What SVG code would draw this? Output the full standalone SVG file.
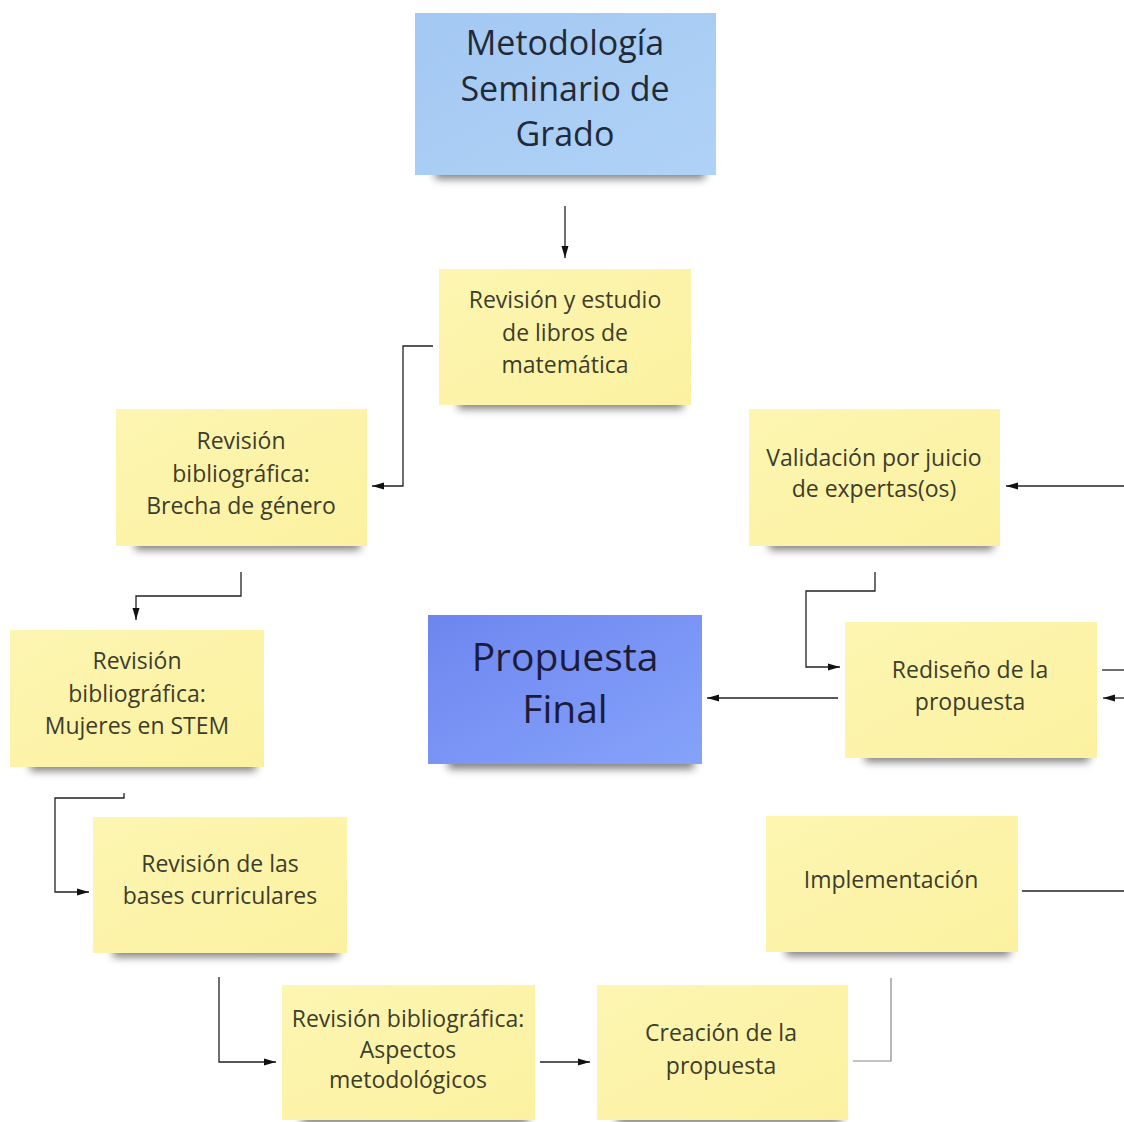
<svg xmlns="http://www.w3.org/2000/svg" width="1124" height="1122" viewBox="0 0 1124 1122">
<defs>
<filter id="sh" x="-20%" y="-100%" width="140%" height="400%"><feGaussianBlur stdDeviation="4"/></filter>
<linearGradient id="yel" x1="0" y1="0" x2="1" y2="1"><stop offset="0" stop-color="#fdf6b2"/><stop offset="1" stop-color="#fbf1a0"/></linearGradient>
<linearGradient id="blu" x1="0" y1="0" x2="1" y2="1"><stop offset="0" stop-color="#a3c8f2"/><stop offset="1" stop-color="#b0d2f7"/></linearGradient>
<linearGradient id="vio" x1="0" y1="0" x2="1" y2="1"><stop offset="0" stop-color="#6d86f0"/><stop offset="1" stop-color="#86a3fa"/></linearGradient>
<marker id="ar" viewBox="0 0 12 10" refX="12" refY="5" markerWidth="12" markerHeight="10" markerUnits="userSpaceOnUse" orient="auto"><path d="M0,1.5 L12,5 L0,8.5 z" fill="#111"/></marker>
<style>
.sh{fill:#000;opacity:0.5;filter:url(#sh)}
.y{fill:url(#yel)}
.t{font-family:"Open Sans","Noto Sans",sans-serif;font-size:23px;fill:#3d3d2c;text-anchor:middle}
.big{font-size:34px;fill:#1f2a38}
.huge{font-size:39px;fill:#1c1c3a}
.c{fill:none;stroke:#222;stroke-width:1.3}
.g{fill:none;stroke:#888;stroke-width:1.2}
</style>
</defs>

<g id="connectors">
<path class="c" d="M565,206 V258" marker-end="url(#ar)"/>
<path class="c" d="M433,346 H403 V486 H372" marker-end="url(#ar)"/>
<path class="c" d="M241,572 V596 H136 V620" marker-end="url(#ar)"/>
<path class="c" d="M124,793 V798 H55 V892 H89" marker-end="url(#ar)"/>
<path class="c" d="M219,977 V1062 H276" marker-end="url(#ar)"/>
<path class="c" d="M540,1062 H590" marker-end="url(#ar)"/>
<path class="g" d="M853,1061 H891 V978"/>
<path class="c" d="M1022,891 H1124"/>
<path class="c" d="M1102,670 H1124"/>
<path class="c" d="M1124,698 H1103" marker-end="url(#ar)"/>
<path class="c" d="M838,698 H707" marker-end="url(#ar)"/>
<path class="c" d="M875,572 V591 H806 V667 H840" marker-end="url(#ar)"/>
<path class="c" d="M1124,486 H1006" marker-end="url(#ar)"/>
</g>

<g id="n-metodologia">
<rect class="sh" x="435" y="165" width="270" height="14"/>
<rect x="415" y="13" width="301" height="162" fill="url(#blu)"/>
<text class="t big" x="565" y="55">Metodología</text>
<text class="t big" x="565" y="101">Seminario de</text>
<text class="t big" x="565" y="146">Grado</text>
</g>

<g id="n-libros">
<rect class="sh" x="458" y="396" width="225" height="13"/>
<rect class="y" x="439" y="269" width="252" height="136"/>
<text class="t" x="565" y="308">Revisión y estudio</text>
<text class="t" x="565" y="341">de libros de</text>
<text class="t" x="565" y="373">matemática</text>
</g>

<g id="n-brecha">
<rect class="sh" x="135" y="537" width="225" height="13"/>
<rect class="y" x="116" y="409" width="251" height="137"/>
<text class="t" x="241" y="449">Revisión</text>
<text class="t" x="241" y="482">bibliográfica:</text>
<text class="t" x="241" y="514">Brecha de género</text>
</g>

<g id="n-stem">
<rect class="sh" x="30" y="758" width="226" height="13"/>
<rect class="y" x="10" y="630" width="254" height="137"/>
<text class="t" x="137" y="669">Revisión</text>
<text class="t" x="137" y="702">bibliográfica:</text>
<text class="t" x="137" y="734">Mujeres en STEM</text>
</g>

<g id="n-bases">
<rect class="sh" x="113" y="944" width="226" height="13"/>
<rect class="y" x="93" y="817" width="254" height="136"/>
<text class="t" x="220" y="872">Revisión de las</text>
<text class="t" x="220" y="904">bases curriculares</text>
</g>

<g id="n-aspectos">
<rect class="sh" x="302" y="1111" width="226" height="13"/>
<rect class="y" x="282" y="985" width="253" height="135"/>
<text class="t" x="408" y="1027">Revisión bibliográfica:</text>
<text class="t" x="408" y="1058">Aspectos</text>
<text class="t" x="408" y="1088">metodológicos</text>
</g>

<g id="n-creacion">
<rect class="sh" x="617" y="1111" width="224" height="13"/>
<rect class="y" x="597" y="985" width="251" height="135"/>
<text class="t" x="721" y="1041">Creación de la</text>
<text class="t" x="721" y="1074">propuesta</text>
</g>

<g id="n-implementacion">
<rect class="sh" x="786" y="943" width="224" height="13"/>
<rect class="y" x="766" y="816" width="252" height="136"/>
<text class="t" x="891" y="888">Implementación</text>
</g>

<g id="n-rediseno">
<rect class="sh" x="865" y="749" width="224" height="13"/>
<rect class="y" x="845" y="622" width="252" height="136"/>
<text class="t" x="970" y="678">Rediseño de la</text>
<text class="t" x="970" y="710">propuesta</text>
</g>

<g id="n-validacion">
<rect class="sh" x="769" y="537" width="224" height="13"/>
<rect class="y" x="749" y="409" width="251" height="137"/>
<text class="t" x="874" y="466">Validación por juicio</text>
<text class="t" x="874" y="497">de expertas(os)</text>
</g>

<g id="n-final">
<rect class="sh" x="448" y="755" width="246" height="14"/>
<rect x="428" y="615" width="274" height="149" fill="url(#vio)"/>
<text class="t huge" x="565" y="671">Propuesta</text>
<text class="t huge" x="565" y="723">Final</text>
</g>
</svg>
